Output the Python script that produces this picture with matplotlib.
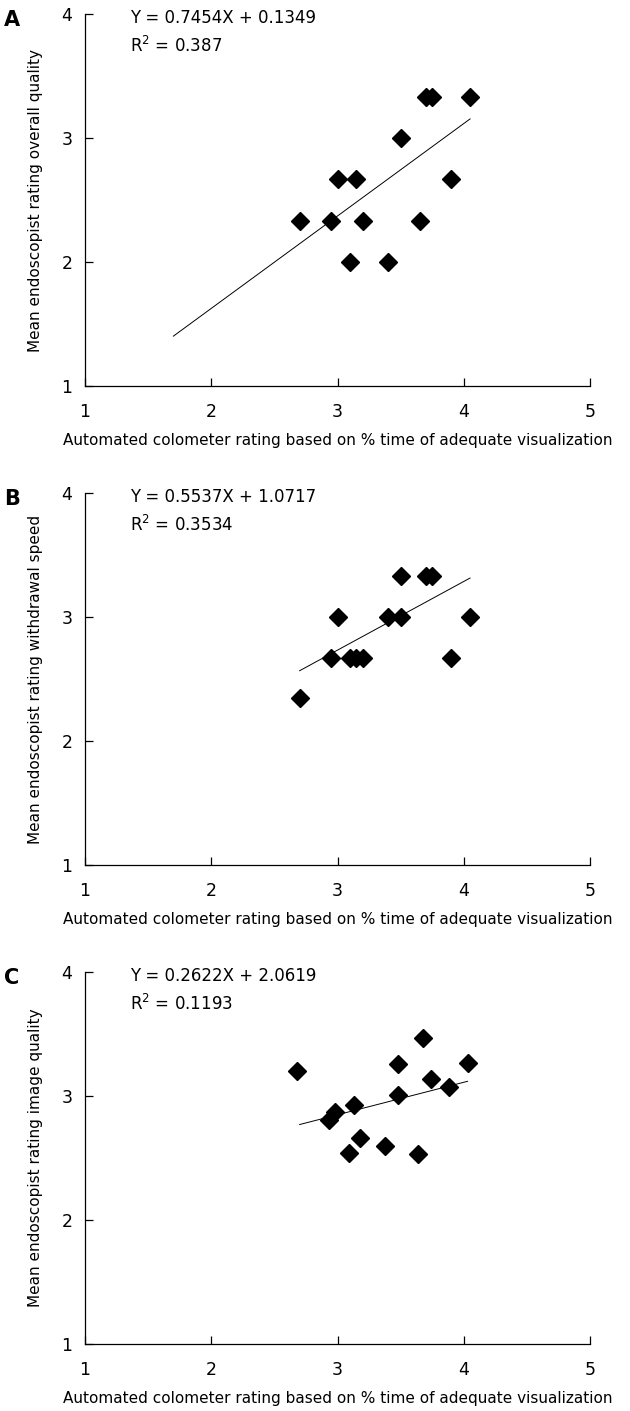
import numpy as np
import matplotlib
matplotlib.use('agg')
import matplotlib.pyplot as plt

plt.rcParams['font.family'] = ['DejaVu Sans']
plt.rcParams['mathtext.fontset'] = 'dejavusans'

# panel A - overall quality
xa = [2.70, 2.95, 3.00, 3.15, 3.20, 3.10, 3.40, 3.50, 3.65, 3.70, 3.75, 3.90, 4.05]
ya = [2.33, 2.33, 2.67, 2.67, 2.33, 2.00, 2.00, 3.00, 2.33, 3.33, 3.33, 2.67, 3.33]
# panel B - withdrawal speed
xb = [2.70, 2.95, 3.00, 3.10, 3.15, 3.20, 3.40, 3.50, 3.50, 3.70, 3.75, 3.90, 4.05]
yb = [2.35, 2.67, 3.00, 2.67, 2.67, 2.67, 3.00, 3.00, 3.33, 3.33, 3.33, 2.67, 3.00]
# panel C - image quality
xc = [2.68, 2.93, 2.98, 3.13, 3.09, 3.18, 3.38, 3.48, 3.48, 3.64, 3.68, 3.74, 3.88, 4.03]
yc = [3.20, 2.81, 2.87, 2.93, 2.54, 2.66, 2.60, 3.01, 3.26, 2.53, 3.47, 3.14, 3.07, 3.27]

slopes = [0.7454, 0.5537, 0.2622]
intercepts = [0.1349, 1.0717, 2.0619]
r2_labels = ['0.387', '0.3534', '0.1193']
line_starts = [1.7, 2.7, 2.7]
letters = ['A', 'B', 'C']
ylabels = ['Mean endoscopist rating overall quality',
           'Mean endoscopist rating withdrawal speed',
           'Mean endoscopist rating image quality']
xlabel = 'Automated colometer rating based on % time of adequate visualization'

xs_all = [xa, xb, xc]
ys_all = [ya, yb, yc]

W, H = 630, 1411
fig = plt.figure(figsize=(W / 100, H / 100), dpi=100)

tops = [14, 493, 972]
left, right, height = 85, 590, 372

for i in range(3):
    top = tops[i]
    ax = fig.add_axes([left / W, 1 - (top + height) / H, (right - left) / W, height / H])
    x = np.array(xs_all[i])
    y = np.array(ys_all[i])
    ax.plot(x, y, linestyle='none', marker='D', markersize=9.5, color='black')
    lx = np.array([line_starts[i], x.max()])
    ax.plot(lx, slopes[i] * lx + intercepts[i], color='black', linewidth=0.7)

    ax.set_xlim(1, 5)
    ax.set_ylim(1, 4)
    ax.set_xticks([1, 2, 3, 4, 5])
    ax.set_yticks([1, 2, 3, 4])
    ax.spines['top'].set_visible(False)
    ax.spines['right'].set_visible(False)
    ax.spines['left'].set_linewidth(0.9)
    ax.spines['bottom'].set_linewidth(0.9)
    ax.tick_params(direction='in', length=6, width=0.9, labelsize=12.5)
    ax.tick_params(axis='x', pad=12)
    ax.tick_params(axis='y', pad=9)
    ax.set_ylabel(ylabels[i], fontsize=11, labelpad=13)
    ax.set_xlabel(xlabel, fontsize=11, labelpad=9)

    ax.text(1.36, 3.965, 'Y = %.4fX + %.4f' % (slopes[i], intercepts[i]),
            fontsize=12, va='center', ha='left')
    ax.text(1.36, 3.74, 'R$^2$ = ' + r2_labels[i],
            fontsize=12, va='center', ha='left')

    fig.text(12 / W, 1 - (top + 6) / H, letters[i], fontsize=15,
             fontweight='bold', ha='center', va='center')

fig.savefig('out.png', dpi=100)
